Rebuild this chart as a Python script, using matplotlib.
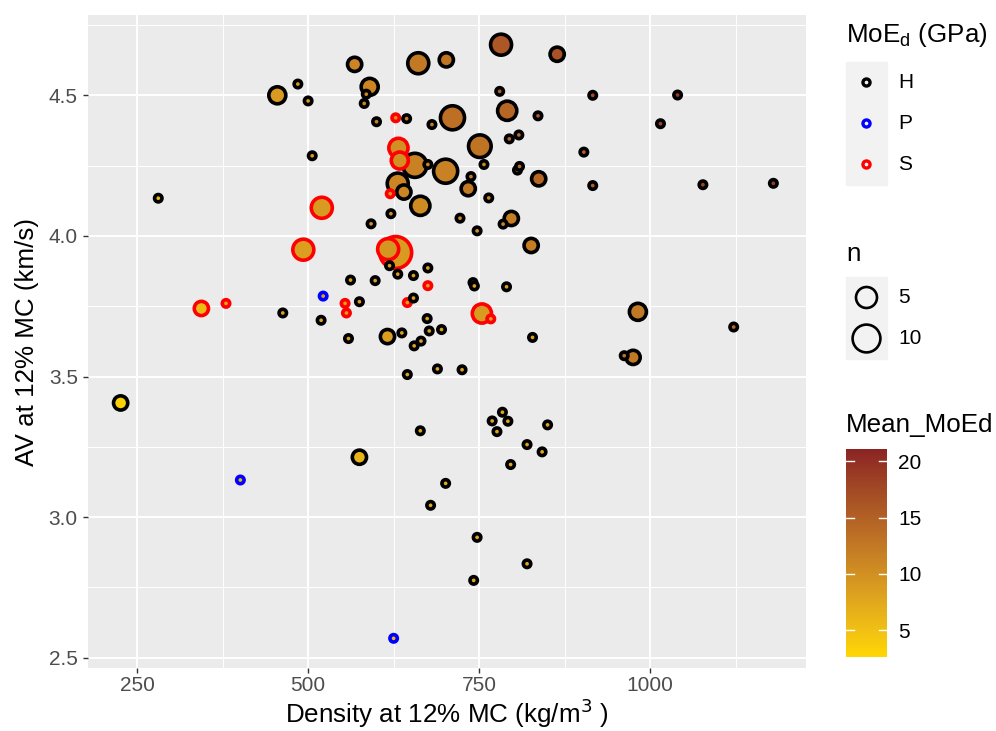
import numpy as np
import matplotlib
matplotlib.use("Agg")
import matplotlib.pyplot as plt
import matplotlib.patches as patches
from matplotlib.colors import LinearSegmentedColormap, Normalize, to_rgb
from matplotlib.ticker import FormatStrFormatter

plt.rcParams['font.family'] = ['Liberation Sans', 'DejaVu Sans']

# density (kg/m3) and acoustic velocity (km/s) at 12% MC
density = [455, 485, 500, 506, 281, 520, 568, 661, 702, 782,
           864, 590, 585, 582, 780, 791, 836, 600, 628, 644,
           681, 711, 632, 634, 656, 675, 701, 751, 757, 794,
           808, 806, 809, 837, 738, 734, 764, 631, 620, 640,
           664, 621, 592, 722, 747, 797, 785, 916, 1040, 1015,
           903, 916, 1077, 1180, 493, 522, 344, 380, 463, 519,
           226, 628, 617, 826, 619, 631, 654, 675, 562, 598,
           675, 741, 743, 790, 554, 556, 575, 645, 654, 754,
           767, 674, 677, 695, 616, 637, 665, 655, 559, 828,
           645, 689, 725, 784, 769, 792, 776, 850, 664, 820,
           982, 1122, 962, 975, 575, 401, 842, 796, 701, 679,
           747, 820, 742, 625]
av = [4.50, 4.54, 4.48, 4.285, 4.134, 4.10, 4.61, 4.614, 4.626, 4.68,
      4.646, 4.53, 4.504, 4.471, 4.514, 4.445, 4.427, 4.406, 4.42, 4.417,
      4.396, 4.42, 4.313, 4.268, 4.251, 4.254, 4.23, 4.319, 4.254, 4.345,
      4.359, 4.234, 4.247, 4.203, 4.211, 4.168, 4.135, 4.186, 4.15, 4.156,
      4.107, 4.079, 4.043, 4.063, 4.018, 4.062, 4.042, 4.50, 4.501, 4.399,
      4.298, 4.179, 4.182, 4.187, 3.951, 3.786, 3.742, 3.76, 3.726, 3.70,
      3.406, 3.941, 3.953, 3.966, 3.894, 3.864, 3.859, 3.886, 3.843, 3.841,
      3.823, 3.834, 3.822, 3.819, 3.76, 3.726, 3.766, 3.763, 3.779, 3.724,
      3.705, 3.706, 3.662, 3.667, 3.642, 3.655, 3.626, 3.609, 3.635, 3.639,
      3.507, 3.527, 3.524, 3.373, 3.342, 3.341, 3.304, 3.328, 3.307, 3.258,
      3.73, 3.676, 3.574, 3.568, 3.213, 3.132, 3.232, 3.187, 3.12, 3.042,
      2.928, 2.834, 2.775, 2.569]
n = [3, 1, 1, 1, 1, 5, 2, 5, 2, 5,
     2, 3, 1, 1, 1, 4, 1, 1, 1, 1,
     1, 7, 4, 3, 7, 1, 7, 6, 1, 1,
     1, 1, 1, 2, 1, 2, 1, 5, 1, 2,
     4, 1, 1, 1, 1, 2, 1, 1, 1, 1,
     1, 1, 1, 1, 5, 1, 2, 1, 1, 1,
     2, 14, 5, 2, 1, 1, 1, 1, 1, 1,
     1, 1, 1, 1, 1, 1, 1, 1, 1, 4,
     1, 1, 1, 1, 2, 1, 1, 1, 1, 1,
     1, 1, 1, 1, 1, 1, 1, 1, 1, 1,
     3, 1, 1, 2, 2, 1, 1, 1, 1, 1,
     1, 1, 1, 1]
mean_moed = [9, 9, 9, 9, 6, 9, 11, 12.5, 13, 16,
             16.5, 11, 11, 11, 15, 14.5, 16, 11.5, 10, 12,
             12, 13.5, 10, 10, 11.5, 11, 11.5, 13, 11, 14,
             14, 12, 14, 14.5, 12, 12.5, 11, 11, 10, 11,
             10.5, 10, 10, 11, 10, 12, 11, 17, 19, 18,
             15, 15, 18, 19, 8.5, 8, 5.5, 8, 8, 8,
             3.2, 9, 9.5, 12, 8.5, 8.5, 8.5, 8.5, 8.5, 8.5,
             8.5, 8.5, 8.5, 8.5, 8.5, 8.5, 8.5, 8.5, 8.5, 9,
             8.5, 8.5, 8.5, 8.5, 8.5, 8.5, 8.5, 8.5, 8.5, 8.5,
             8, 8, 8, 8, 8, 8, 8, 8, 8, 8,
             12.5, 14, 13, 12.5, 6.5, 6, 7.5, 7.5, 7.5, 7.5,
             7.5, 7.5, 7.5, 6]
group = list("HHHHHSHHHH" "HHHHHHHHSH" "HHSSHHHHHH" "HHHHHHHHSH"
             "HHHHHHHHHH" "HHHHSPSSHH" "HSSHHHHHHH" "SHHHSSHSHS"
             "SHHHHHHHHH" "HHHHHHHHHH" "HHHHHPHHHH" "HHHP")

group_levels = ['H', 'P', 'S']
group_colors = {'H': 'black', 'P': 'blue', 'S': 'red'}
size_breaks = [5, 10]
moe_breaks = [5, 10, 15, 20]
moe_lim = (2.6, 21.1)

# gold -> brown4 gradient, interpolated in Lab like ggplot
M = np.array([[0.4124, 0.3576, 0.1805],
              [0.2126, 0.7152, 0.0722],
              [0.0193, 0.1192, 0.9505]])
WHITE = np.array([0.95047, 1.0, 1.08883])


def to_lab(col):
    rgb = np.array(to_rgb(col))
    lin = np.where(rgb <= 0.04045, rgb / 12.92, ((rgb + 0.055) / 1.055) ** 2.4)
    xyz = M @ lin / WHITE
    f = np.where(xyz > 0.008856, np.cbrt(xyz), 7.787 * xyz + 16 / 116)
    return np.array([116 * f[1] - 16, 500 * (f[0] - f[1]), 200 * (f[1] - f[2])])


def from_lab(lab):
    fy = (lab[0] + 16) / 116
    f = np.array([fy + lab[1] / 500, fy, fy - lab[2] / 200])
    xyz = np.where(f ** 3 > 0.008856, f ** 3, (f - 16 / 116) / 7.787) * WHITE
    lin = np.clip(np.linalg.solve(M, xyz), 0, None)
    rgb = np.where(lin <= 0.0031308, 12.92 * lin, 1.055 * lin ** (1 / 2.4) - 0.055)
    return np.clip(rgb, 0, 1)


def marker_area(count):
    # diameter in px grows with sqrt of n, returned as scatter area (pt^2)
    d_px = 7.4 + 6.8 * np.sqrt(np.asarray(count, dtype=float) - 1)
    return (d_px * 72 / 100) ** 2


lo, hi = to_lab('#FFD700'), to_lab('#8B2323')
cmap = LinearSegmentedColormap.from_list(
    'moe', [from_lab(lo + (hi - lo) * t) for t in np.linspace(0, 1, 64)])
norm = Normalize(*moe_lim)

fig = plt.figure(figsize=(9.96, 7.31), dpi=100)
ax = fig.add_axes([88 / 996, 1 - 668 / 731, 718 / 996, 653 / 731])
ax.set_facecolor('#EBEBEB')
for sp in ax.spines.values():
    sp.set_visible(False)

x = np.array(density, dtype=float)
y = np.array(av)
nn = np.array(n)
order = np.argsort(-nn, kind='stable')
edges = [group_colors[group[i]] for i in order]
sc = ax.scatter(x[order], y[order], s=marker_area(nn[order]),
                c=np.array(mean_moed)[order], cmap=cmap, norm=norm,
                edgecolors=edges, linewidths=2.6, zorder=3)

xr = x.max() - x.min()
yr = y.max() - y.min()
ax.set_xlim(x.min() - 0.05 * xr, x.max() + 0.05 * xr)
ax.set_ylim(y.min() - 0.05 * yr, y.max() + 0.05 * yr)
ax.set_xticks([250, 500, 750, 1000])
ax.set_xticks([375, 625, 875, 1125], minor=True)
ax.set_yticks([2.5, 3.0, 3.5, 4.0, 4.5])
ax.set_yticks([2.75, 3.25, 3.75, 4.25, 4.75], minor=True)
ax.yaxis.set_major_formatter(FormatStrFormatter('%.1f'))
ax.grid(which='major', color='white', linewidth=1.4)
ax.grid(which='minor', color='white', linewidth=0.7)
ax.set_axisbelow(True)
ax.tick_params(which='major', length=3.3, width=1, color='#333333',
               labelcolor='#4D4D4D', labelsize=15)
ax.tick_params(axis='x', pad=2.5)
ax.tick_params(axis='y', pad=4)
ax.tick_params(which='minor', length=0)
ax.set_xlabel('Density at 12% MC (kg/m$^3$ )', fontsize=18.7, labelpad=1)
ax.set_ylabel('AV at 12% MC (km/s)', fontsize=18.7, labelpad=7)

# legends drawn in pixel space
lg = fig.add_axes([0, 0, 1, 1])
lg.set_xlim(0, 996)
lg.set_ylim(731, 0)
lg.axis('off')

lg.text(846, 35, 'MoE$_\\mathregular{d}$ (GPa)', fontsize=18.7, va='center')
lg.add_patch(patches.Rectangle((846, 62), 41, 123, color='#F2F2F2'))
for i, g in enumerate(group_levels):
    yy = 82.5 + 41 * i
    lg.scatter(866.5, yy, s=26, facecolor='none',
               edgecolor=group_colors[g], linewidths=2.4)
    lg.text(898, yy, g, fontsize=15, va='center')

lg.text(846, 254, 'n', fontsize=18.7, va='center')
lg.add_patch(patches.Rectangle((846, 277), 41, 82, color='#F2F2F2'))
for i, v in enumerate(size_breaks):
    yy = 297.5 + 41 * i
    lg.scatter(866.5, yy, s=marker_area(v), facecolor='none',
               edgecolor='black', linewidths=1.9)
    lg.text(898, yy, str(v), fontsize=15, va='center')

lg.text(846, 425, 'Mean_MoEd', fontsize=18.7, va='center')
cax = fig.add_axes([846 / 996, 1 - 657 / 731, 41 / 996, 208 / 731])
cb = fig.colorbar(sc, cax=cax)
cb.outline.set_visible(False)
cb.set_ticks(moe_breaks)
cax.tick_params(length=0, labelsize=15, pad=8)
for v in moe_breaks:
    cax.axhline(v, 0, 0.2, color='white', linewidth=1)
    cax.axhline(v, 0.8, 1, color='white', linewidth=1)

fig.savefig('out.png', dpi=100)
